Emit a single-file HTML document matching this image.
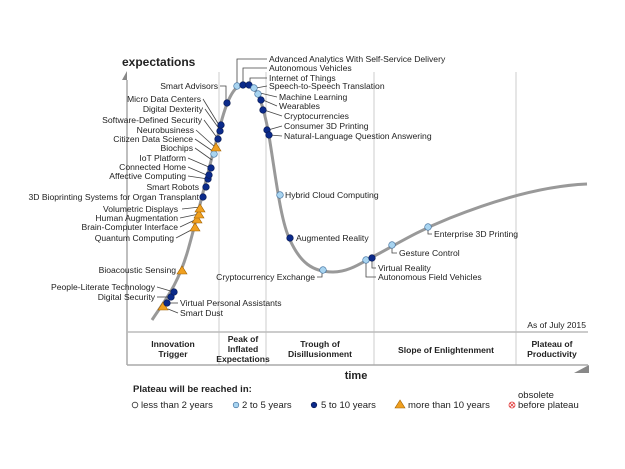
<!DOCTYPE html>
<html><head><meta charset="utf-8"><style>
body{margin:0;background:#fff}
svg{display:block}
text{font-family:"Liberation Sans",Arial,sans-serif;font-size:8.6px;fill:#222}
.b{font-weight:bold}
.l{stroke:#444;stroke-width:0.8;fill:none}
.d{fill:#0b2a8a;stroke:#0a1a50;stroke-width:0.6}
.c{fill:#a8d4f0;stroke:#3a6a9a;stroke-width:0.6}
.t{fill:#f0a020;stroke:#a06000;stroke-width:0.6}
</style></head><body>
<svg width="625" height="469" viewBox="0 0 625 469">
<!-- grid -->
<g stroke="#ccc" stroke-width="1">
<line x1="219" y1="72" x2="219" y2="365"/><line x1="266" y1="72" x2="266" y2="365"/>
<line x1="374" y1="72" x2="374" y2="365"/><line x1="516" y1="72" x2="516" y2="365"/>
</g>
<line x1="127" y1="80" x2="127" y2="365" stroke="#aaa" stroke-width="1.5"/>
<polygon points="122,80 127,71 127,80" fill="#888"/>
<line x1="127" y1="332" x2="588" y2="332" stroke="#bbb" stroke-width="1.5"/>
<line x1="127" y1="365" x2="588" y2="365" stroke="#aaa" stroke-width="1.5"/>
<polygon points="574,373 589,365 589,373" fill="#888"/>
<text x="122" y="66" class="b" style="font-size:12px">expectations</text>
<text x="356" y="379" class="b" style="font-size:11px" text-anchor="middle">time</text>
<!-- curve -->
<path d="M152,320 C165,300 178,285 188,250 C198,215 208,170 218,135 C226,100 234,84 245,84 C256,84 262,100 268,130 C275,170 280,220 290,240 C300,262 312,272 333,272 C350,272 362,262 380,253 C400,242 420,230 450,218 C490,202 540,186 587,184" fill="none" stroke="#999" stroke-width="3"/>
<!-- leaders -->
<g class="l">
<path d="M220,86 H226 V102"/><path d="M203,99 L219,125"/><path d="M205,109 L220,130"/><path d="M204,120 L218,139"/>
<path d="M196,130 L216,148"/><path d="M195,139 L214,152"/><path d="M195,148 L212,160"/><path d="M188,158 L211,168"/>
<path d="M188,167 L209,176"/><path d="M188,176 L208,179"/><path d="M182,209 L200,207"/><path d="M180,218 L199,214"/>
<path d="M180,227 L197,219"/><path d="M176,238 L195,228"/><path d="M157,287 L174,292"/><path d="M157,297 L171,297"/>
<path d="M178,303 L166,303"/><path d="M178,313 L168,309"/>
<path d="M267,59 H237 V84"/><path d="M267,68 H243 V82"/><path d="M267,78 H250 V82"/><path d="M267,86 L256,88"/>
<path d="M277,97 L260,93"/><path d="M277,106 L263,100"/><path d="M282,116 L264,110"/><path d="M282,126 L268,130"/><path d="M282,136 L270,135"/>
<path d="M317,277 H322 V272"/><path d="M376,268 H372 V260"/><path d="M376,277 H366 V262"/><path d="M397,253 H392 V247"/><path d="M432,234 H428 V229"/>
</g>
<!-- markers -->
<g>
<polygon class="t" points="163,302 158,310 168,310"/>
<circle class="d" cx="167" cy="303" r="3.3"/><circle class="d" cx="171" cy="297" r="3.3"/><circle class="d" cx="174" cy="292" r="3.3"/>
<polygon class="t" points="182,266 177,274 187,274"/>
<polygon class="t" points="195,223 190,231 200,231"/><polygon class="t" points="197,215 192,223 202,223"/>
<polygon class="t" points="199,210 194,218 204,218"/><polygon class="t" points="200,204 195,212 205,212"/>
<circle class="d" cx="203" cy="197" r="3.3"/><circle class="d" cx="206" cy="187" r="3.3"/><circle class="d" cx="208" cy="179" r="3.3"/>
<circle class="d" cx="209" cy="175" r="3.3"/><circle class="d" cx="211" cy="168" r="3.3"/><circle class="c" cx="214" cy="154" r="3.3"/>
<polygon class="t" points="216,143 211,151 221,151"/><circle class="d" cx="218" cy="139" r="3.3"/><circle class="d" cx="220" cy="131" r="3.3"/>
<circle class="d" cx="221" cy="125" r="3.3"/><circle class="d" cx="227" cy="103" r="3.3"/>
<circle class="c" cx="237" cy="86" r="3.3"/><circle class="d" cx="243" cy="85" r="3.3"/><circle class="d" cx="249" cy="85" r="3.3"/>
<circle class="c" cx="254" cy="88" r="3.3"/><circle class="c" cx="258" cy="94" r="3.3"/><circle class="d" cx="261" cy="100" r="3.3"/>
<circle class="d" cx="263" cy="110" r="3.3"/><circle class="d" cx="267" cy="130" r="3.3"/><circle class="d" cx="269" cy="135" r="3.3"/>
<circle class="c" cx="280" cy="195" r="3.3"/><circle class="d" cx="290" cy="238" r="3.3"/><circle class="c" cx="323" cy="270" r="3.3"/>
<circle class="c" cx="366" cy="260" r="3.3"/><circle class="d" cx="372" cy="258" r="3.3"/><circle class="c" cx="392" cy="245" r="3.3"/>
<circle class="c" cx="428" cy="227" r="3.3"/>
</g>
<!-- left labels -->
<g text-anchor="end">
<text x="218" y="89">Smart Advisors</text><text x="201" y="102">Micro Data Centers</text><text x="203" y="112">Digital Dexterity</text>
<text x="202" y="123">Software-Defined Security</text><text x="194" y="133">Neurobusiness</text><text x="193" y="142">Citizen Data Science</text>
<text x="193" y="151">Biochips</text><text x="186" y="161">IoT Platform</text><text x="186" y="170">Connected Home</text>
<text x="186" y="179">Affective  Computing</text><text x="199" y="190">Smart Robots</text><text x="199" y="200">3D Bioprinting Systems for Organ Transplant</text>
<text x="178" y="212">Volumetric Displays</text><text x="178" y="221">Human Augmentation</text><text x="178" y="230">Brain-Computer Interface</text>
<text x="174" y="241">Quantum Computing</text><text x="176" y="273">Bioacoustic Sensing</text><text x="155" y="290">People-Literate Technology</text>
<text x="155" y="300">Digital Security</text><text x="315" y="280">Cryptocurrency Exchange</text><text x="586" y="328">As of July 2015</text>
</g>
<g>
<text x="180" y="306">Virtual Personal Assistants</text><text x="180" y="316">Smart Dust</text>
<text x="269" y="62">Advanced Analytics With Self-Service Delivery</text><text x="269" y="71">Autonomous Vehicles</text>
<text x="269" y="81">Internet of Things</text><text x="269" y="89">Speech-to-Speech Translation</text>
<text x="279" y="100">Machine Learning</text><text x="279" y="109">Wearables</text><text x="284" y="119">Cryptocurrencies</text>
<text x="284" y="129">Consumer 3D Printing</text><text x="284" y="139">Natural-Language Question Answering</text>
<text x="285" y="198">Hybrid Cloud Computing</text><text x="296" y="241">Augmented Reality</text>
<text x="378" y="271">Virtual Reality</text><text x="378" y="280">Autonomous Field Vehicles</text>
<text x="399" y="256">Gesture Control</text><text x="434" y="237">Enterprise 3D Printing</text>
</g>
<!-- phases -->
<g class="b" text-anchor="middle">
<text x="173" y="347">Innovation</text><text x="173" y="357">Trigger</text>
<text x="243" y="342">Peak of</text><text x="243" y="352">Inflated</text><text x="243" y="362">Expectations</text>
<text x="320" y="347">Trough  of</text><text x="320" y="357">Disillusionment</text>
<text x="446" y="353">Slope of Enlightenment</text>
<text x="552" y="347">Plateau of</text><text x="552" y="357">Productivity</text>
</g>
<!-- legend -->
<text x="133" y="392" class="b" style="font-size:9.5px">Plateau will be reached in:</text>
<g style="font-size:9.5px">
<circle cx="135" cy="405" r="2.8" fill="#fff" stroke="#333" stroke-width="0.8"/><text x="141" y="408" style="font-size:9.5px">less than 2 years</text>
<circle cx="236" cy="405" r="2.8" class="c"/><text x="242" y="408" style="font-size:9.5px">2 to 5 years</text>
<circle cx="314" cy="405" r="2.8" class="d"/><text x="321" y="408" style="font-size:9.5px">5 to 10 years</text>
<polygon class="t" points="400,400 395,408 405,408"/><text x="408" y="408" style="font-size:9.5px">more than 10 years</text>
<circle cx="512" cy="405" r="3" fill="#fff" stroke="#e03030" stroke-width="0.8"/><path d="M510,403 L514,407 M514,403 L510,407" stroke="#e03030" stroke-width="0.8"/>
<text x="518" y="398" style="font-size:9.5px">obsolete</text><text x="518" y="408" style="font-size:9.5px">before plateau</text>
</g>
</svg>
</body></html>
